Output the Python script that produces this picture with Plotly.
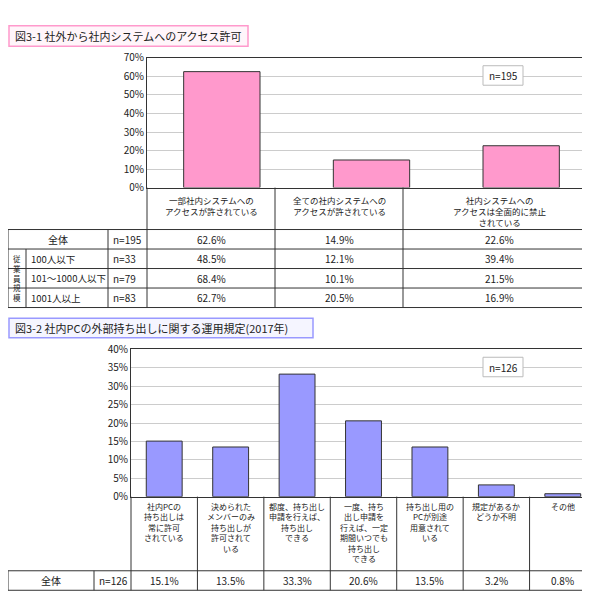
import plotly.graph_objects as go

W, H = 590, 600
FONT = "Noto Sans CJK JP"

# ---- data ----
cats1 = ["一部社内システムへの<br>アクセスが許されている", "全ての社内システムへの<br>アクセスが許されている", "社内システムへの<br>アクセスは全面的に禁止<br>されている"]
vals1 = [62.6, 14.9, 22.6]
rows1 = ["全体", "100人以下", "101～1000人以下", "1001人以上"]
n1 = ["n=195", "n=33", "n=79", "n=83"]
tab1 = [[62.6, 14.9, 22.6], [48.5, 12.1, 39.4], [68.4, 10.1, 21.5], [62.7, 20.5, 16.9]]

cats2 = ["社内PCの<br>持ち出しは<br>常に許可<br>されている", "決められた<br>メンバーのみ<br>持ち出しが<br>許可されて<br>いる",
         "都度、持ち出し<br>申請を行えば、<br>持ち出し<br>できる", "一度、持ち<br>出し申請を<br>行えば、一定<br>期間いつでも<br>持ち出し<br>できる",
         "持ち出し用の<br>PCが別途<br>用意されて<br>いる", "規定があるか<br>どうか不明", "その他"]
vals2 = [15.1, 13.5, 33.3, 20.6, 13.5, 3.2, 0.8]

def px(x): return x / W
def py(y): return 1 - y / H

shapes, ann = [], []
def line(x0, y0, x1, y1, c="#333", w=1):
    shapes.append(dict(type="line", xref="paper", yref="paper", x0=px(x0), y0=py(y0), x1=px(x1), y1=py(y1), line=dict(color=c, width=w)))
def rect(x0, y0, x1, y1, c, w=1.5, fill="white"):
    shapes.append(dict(type="rect", xref="paper", yref="paper", x0=px(x0), y0=py(y0), x1=px(x1), y1=py(y1), line=dict(color=c, width=w), fillcolor=fill, layer="above"))
def text(x, y, t, size=10, xa="center", ya="middle"):
    ann.append(dict(xref="paper", yref="paper", x=px(x), y=py(y), text=t, showarrow=False, xanchor=xa, yanchor=ya, font=dict(size=size, color="#222", family=FONT)))

fig = go.Figure()
fig.add_trace(go.Bar(x=list(range(3)), y=vals1, marker=dict(color="#ff99cc", line=dict(color="#333", width=1)), width=0.51, xaxis="x", yaxis="y"))
fig.add_trace(go.Bar(x=list(range(7)), y=vals2, marker=dict(color="#9999ff", line=dict(color="#333", width=1)), width=0.54, xaxis="x2", yaxis="y2"))

# ---- top panel ----
rect(1, 10, 240, 31, "#ff99cc", 1.5, "#fff5fa")
text(5, 20.5, "図3-1 社外から社内システムへのアクセス許可", 11, "left")
rect(475, 51, 515, 71, "#bbb", 1)
text(495, 61, "n=195", 10)
cx1 = [139, 267, 395, 588]
for x in cx1:
    line(x, 176, x, 299)
for i, c in enumerate(cats1):
    text((cx1[i] + cx1[i + 1]) / 2, 180, c, 8.5, "center", "top")
ry = [219, 239, 259, 279, 299]
for y in ry:
    line(0, y, 588, y)
line(0, 219, 0, 299); line(100, 219, 100, 299); line(18, 239, 18, 299)
for r in range(4):
    yc = (ry[r] + ry[r + 1]) / 2
    if r == 0:
        text(50, yc, rows1[r])
    else:
        text(21, yc, rows1[r], 9.5, "left")
    text(103, yc, n1[r], 10, "left")
    for j in range(3):
        text((cx1[j] + cx1[j + 1]) / 2, yc, f"{tab1[r][j]:.1f}%")
text(9, 269, "従<br>業<br>員<br>規<br>模", 7.5)

# ---- bottom panel ----
rect(1, 310, 305, 330, "#9999ff", 1.5, "#f5f5ff")
text(5, 320, "図3-2 社内PCの外部持ち出しに関する運用規定(2017年)", 11, "left")
rect(475, 350, 515, 370, "#bbb", 1)
text(495, 360, "n=126", 10)
x0b, x1b = 123, 588
cw = (x1b - x0b) / 7
cx2 = [x0b + i * cw for i in range(8)]
for x in cx2:
    line(x, 493, x, 589)
for i, c in enumerate(cats2):
    text((cx2[i] + cx2[i + 1]) / 2, 495, c, 8, "center", "top")
line(0, 569, 588, 569); line(0, 589, 588, 589)
line(0, 569, 0, 589); line(86, 569, 86, 589)
text(43, 579, "全体"); text(89, 579, "n=126", 10, "left")
for i, v in enumerate(vals2):
    text((cx2[i] + cx2[i + 1]) / 2, 579, f"{v:.1f}%")

ax = dict(showticklabels=False, showgrid=False, zeroline=False, showline=True, linecolor="#333", mirror=True, fixedrange=True)
fig.update_layout(
    width=W, height=H, margin=dict(l=0, r=0, t=0, b=0), showlegend=False,
    plot_bgcolor="white", paper_bgcolor="white",
    font=dict(family=FONT, size=10, color="#222"),
    xaxis=dict(ax, domain=[px(139), px(588)], range=[-0.5, 2.5]),
    yaxis=dict(domain=[py(176), py(43)], range=[0, 70], dtick=10, ticksuffix="%", showgrid=True, gridcolor="#ccc",
               showline=True, linecolor="#333", mirror=True, zeroline=False, ticks="", tickfont=dict(size=10)),
    xaxis2=dict(ax, domain=[px(123), px(588)], range=[-0.5, 6.5], anchor="y2"),
    yaxis2=dict(domain=[py(493), py(342)], range=[0, 40], dtick=5, ticksuffix="%", showgrid=True, gridcolor="#ccc",
                showline=True, linecolor="#333", mirror=True, zeroline=False, ticks="", tickfont=dict(size=10), anchor="x2"),
    shapes=shapes, annotations=ann,
)
fig.write_html("out.html")
